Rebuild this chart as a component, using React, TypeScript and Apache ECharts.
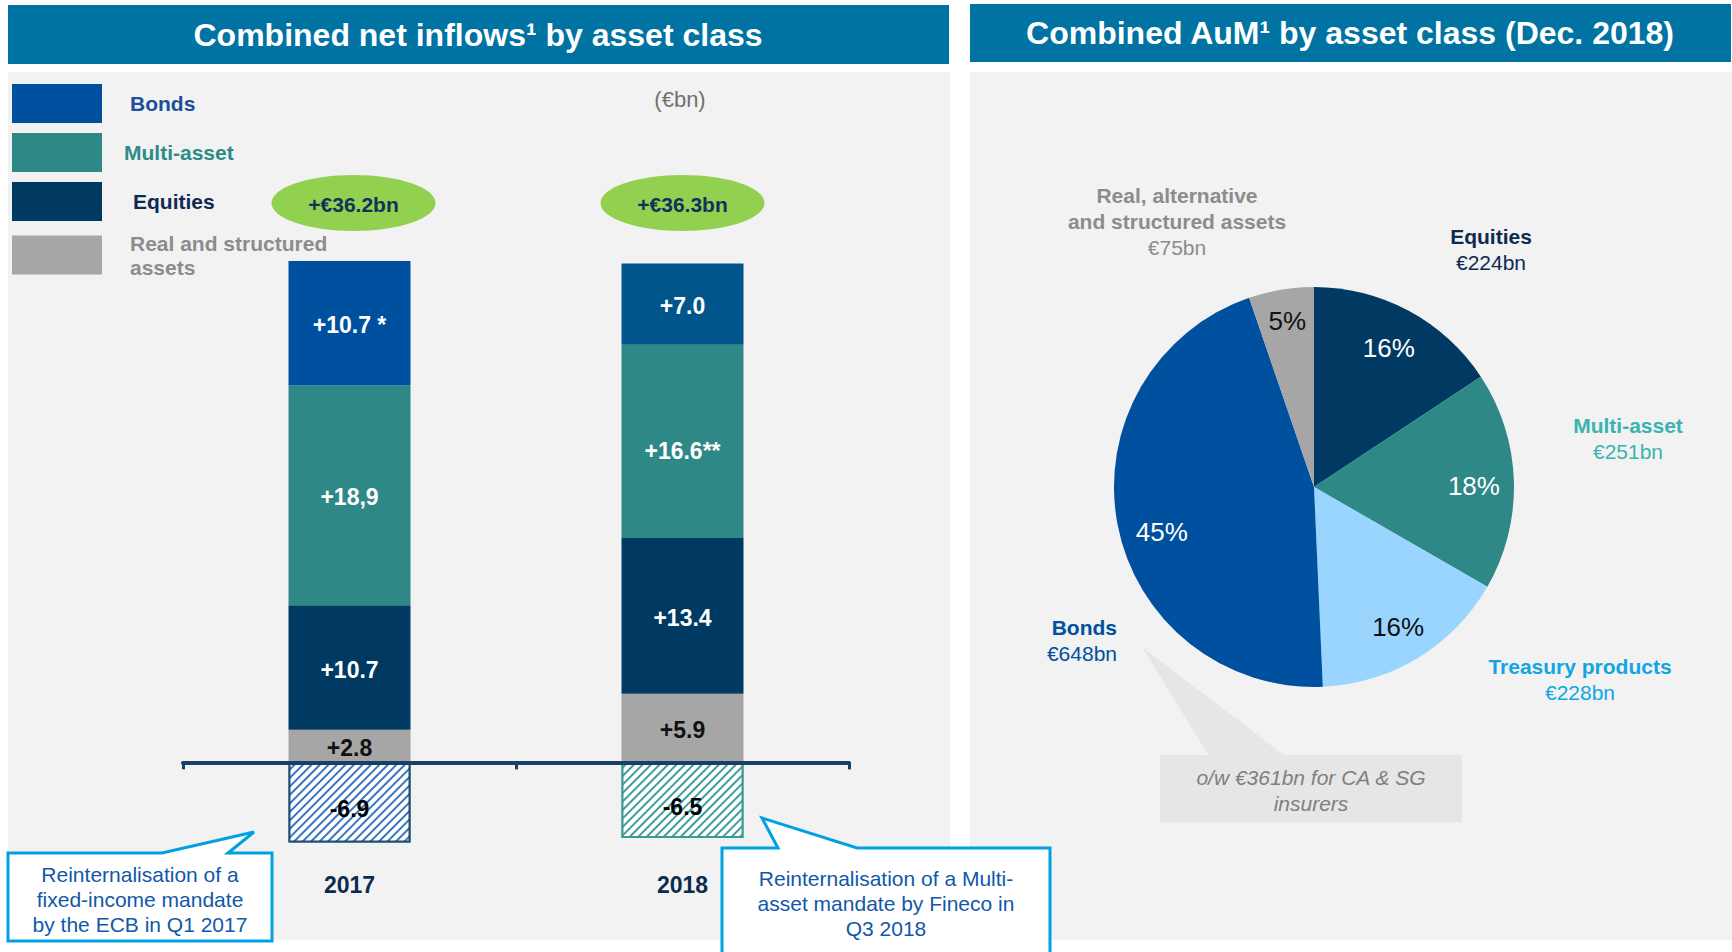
import React, { useEffect, useRef } from "react";
import * as echarts from "echarts";

// ---------- Data ----------
const years = ["2017", "2018"];
const bonds = [10.7, 7.0];
const multiAsset = [18.9, 16.6];
const equities = [10.7, 13.4];
const realStructured = [2.8, 5.9];
const reinternalisation = [-6.9, -6.5];
const bondsLabels = ["+10.7 *", "+7.0"];
const multiAssetLabels = ["+18,9", "+16.6**"];
const equitiesLabels = ["+10.7", "+13.4"];
const realLabels = ["+2.8", "+5.9"];
const reintLabels = ["-6.9", "-6.5"];
const totals = ["+€36.2bn", "+€36.3bn"];

const aumNames = ["Equities", "Multi-asset", "Treasury products", "Bonds", "Real, alternative and structured assets"];
const aumValues = [224, 251, 228, 648, 75];
const aumTitles = [["Equities"], ["Multi-asset"], ["Treasury products"], ["Bonds"], ["Real, alternative", "and structured assets"]];

const callout1 = ["Reinternalisation of a", "fixed-income mandate", "by the ECB in Q1 2017"];
const callout2 = ["Reinternalisation of a Multi-", "asset mandate by Fineco in", "Q3 2018"];
const bondsNote = ["o/w €361bn for CA & SG", "insurers"];

// ---------- Style ----------
const F = '"Liberation Sans", Arial, sans-serif';
const C = {
  title: "#0073A3",
  panel: "#F2F2F2",
  bonds: "#0050A0",
  bonds2018: "#00568A",
  multi: "#2E8886",
  equities: "#003A63",
  real: "#A6A6A6",
  treasury: "#99D5FF",
  navy: "#0D2B4F",
  callout: "#00A0E3",
  calloutText: "#1158A8",
};
const pieColors = [C.equities, C.multi, C.treasury, C.bonds, C.real];
const pieLabelColors = ["#ffffff", "#ffffff", "#111111", "#ffffff", "#111111"];
const pieLabelOffsets = [[-2, 4], [-2, 4], [0, 2], [7, 15], [0, -6]];
const aumTextColors = [C.navy, "#3BB3B0", "#12A5E3", C.bonds, "#8C8C8C"];
// label anchors (layout)
const aumLabelPos = [
  { x: 1491, y: 236, align: "center" },
  { x: 1628, y: 425, align: "center" },
  { x: 1580, y: 666, align: "center" },
  { x: 1117, y: 627, align: "right" },
  { x: 1177, y: 195, align: "center" },
];
const ellipseDx = [4, 0];

function txt(id: string, x: number, y: number, text: string, o: any = {}) {
  return {
    type: "text",
    id,
    x,
    y,
    z: o.z ?? 5,
    style: {
      text,
      fill: o.fill ?? "#000",
      fontFamily: F,
      fontSize: o.size ?? 21,
      fontWeight: o.weight ?? "normal",
      fontStyle: o.italic ? "italic" : "normal",
      align: o.align ?? "center",
      verticalAlign: "middle",
    },
  };
}

export default function App() {
  const ref = useRef<HTMLDivElement>(null);

  useEffect(() => {
    document.body.style.margin = "0";
    const chart = echarts.init(ref.current!, null, { renderer: "svg" });

    const lbl = (arr: string[], color = "#fff", dy = 2) => ({
      show: true,
      position: "inside",
      offset: [0, dy],
      fontFamily: F,
      fontWeight: "bold",
      fontSize: 23,
      color,
      textBorderWidth: 0,
      formatter: (p: any) => arr[p.dataIndex],
    });

    const hatch = (base: string, border: string) => ({
      color: base,
      borderColor: border,
      borderWidth: 2,
      decal: {
        symbol: "rect",
        symbolSize: 1,
        color: "#ffffff",
        dashArrayX: [1, 0],
        dashArrayY: [4, 1.8],
        rotation: -Math.PI / 4,
      },
    });

    const graphics: any[] = [];
    // panels & titles
    graphics.push({ type: "rect", id: "lt", z: 0, shape: { x: 8, y: 5, width: 941, height: 59 }, style: { fill: C.title } });
    graphics.push({ type: "rect", id: "lp", z: 0, shape: { x: 8, y: 72, width: 942, height: 868 }, style: { fill: C.panel } });
    graphics.push({ type: "rect", id: "rt", z: 0, shape: { x: 970, y: 4, width: 761, height: 58 }, style: { fill: C.title } });
    graphics.push({ type: "rect", id: "rp", z: 0, shape: { x: 970, y: 72, width: 762, height: 868 }, style: { fill: C.panel } });
    graphics.push(txt("ltt", 478, 35, "Combined net inflows¹ by asset class", { fill: "#fff", size: 32, weight: "bold" }));
    graphics.push(txt("rtt", 1350, 33, "Combined AuM¹ by asset class (Dec. 2018)", { fill: "#fff", size: 32, weight: "bold" }));
    graphics.push(txt("unit", 680, 99, "(€bn)", { fill: "#707070", size: 22 }));

    // pie outside labels
    aumTitles.forEach((lines, i) => {
      const p = aumLabelPos[i];
      lines.forEach((l, j) => {
        graphics.push(txt(`al${i}_${j}`, p.x, p.y + j * 26, l, { fill: aumTextColors[i], weight: "bold", align: p.align }));
      });
      graphics.push(
        txt(`av${i}`, p.x, p.y + lines.length * 26, `€${aumValues[i]}bn`, { fill: aumTextColors[i], align: p.align })
      );
    });

    // bonds note callout
    graphics.push({ type: "polygon", id: "bn_tri", z: 4, shape: { points: [[1142, 647], [1209, 756], [1285, 756]] }, style: { fill: "#E6E6E6" } });
    graphics.push({ type: "rect", id: "bn_box", z: 4, shape: { x: 1160, y: 755, width: 302, height: 67 }, style: { fill: "#E6E6E6" } });
    bondsNote.forEach((l, j) => graphics.push(txt(`bnt${j}`, 1311, 777 + j * 26, l, { fill: "#7F7F7F", italic: true })));

    // left panel callouts
    graphics.push({
      type: "polygon",
      id: "c1",
      z: 10,
      shape: { points: [[8, 853], [162, 853], [254, 832], [228, 853], [272, 853], [272, 941], [8, 941]] },
      style: { fill: "#fff", stroke: C.callout, lineWidth: 3, lineJoin: "miter" },
    });
    callout1.forEach((l, j) => graphics.push(txt(`c1t${j}`, 140, 874 + j * 25, l, { fill: C.calloutText, z: 11 })));
    graphics.push({
      type: "polygon",
      id: "c2",
      z: 10,
      shape: { points: [[722, 848], [778, 848], [762, 818], [857, 848], [1050, 848], [1050, 960], [722, 960]] },
      style: { fill: "#fff", stroke: C.callout, lineWidth: 3, lineJoin: "miter" },
    });
    callout2.forEach((l, j) => graphics.push(txt(`c2t${j}`, 886, 878 + j * 25, l, { fill: C.calloutText, z: 11 })));

    const option: any = {
      animation: false,
      backgroundColor: "#ffffff",
      textStyle: { fontFamily: F },
      grid: { left: 183, top: 239, width: 666, height: 628, outerBoundsMode: "none", containLabel: false },
      xAxis: {
        type: "category",
        data: years,
        z: 3,
        axisLine: { show: true, onZero: true, lineStyle: { color: "#1A3F66", width: 4 } },
        axisTick: { show: true, length: 7, lineStyle: { color: "#1A3F66", width: 3 } },
        axisLabel: { margin: 6, fontFamily: F, fontSize: 23, fontWeight: "bold", color: C.navy },
        splitLine: { show: false },
      },
      yAxis: {
        type: "value",
        min: -9,
        max: 45,
        axisLine: { show: false },
        axisTick: { show: false },
        axisLabel: { show: false },
        splitLine: { show: false },
      },
      legend: {
        orient: "vertical",
        left: 12,
        top: 84,
        padding: 0,
        itemWidth: 90,
        itemHeight: 39,
        itemGap: 10,
        icon: "rect",
        selectedMode: false,
        formatter: (n: string) => (n === "Real and structured assets" ? "Real and structured\nassets" : n),
        textStyle: { fontFamily: F, fontSize: 21, fontWeight: "bold", lineHeight: 24 },
        data: [
          { name: "Bonds", textStyle: { color: "#1B4F9C", padding: [0, 0, 0, 23] } },
          { name: "Multi-asset", textStyle: { color: "#2E8B88", padding: [0, 0, 0, 17] } },
          { name: "Equities", textStyle: { color: C.navy, padding: [0, 0, 0, 26] } },
          { name: "Real and structured assets", textStyle: { color: "#8C8C8C", padding: [0, 0, 0, 23] } },
        ],
      },
      series: [
        {
          name: "Real and structured assets",
          type: "bar",
          stack: "a",
          barWidth: 122,
          data: realStructured,
          itemStyle: { color: C.real },
          label: lbl(realLabels, "#111111"),
        },
        {
          name: "Equities",
          type: "bar",
          stack: "a",
          barWidth: 122,
          data: equities,
          itemStyle: { color: C.equities },
          label: lbl(equitiesLabels),
        },
        {
          name: "Multi-asset",
          type: "bar",
          stack: "a",
          barWidth: 122,
          data: multiAsset.map((v, i) => (i === 1 ? { value: v, label: { offset: [0, 10] } } : v)),
          itemStyle: { color: C.multi },
          label: lbl(multiAssetLabels),
        },
        {
          name: "Bonds",
          type: "bar",
          stack: "a",
          barWidth: 122,
          data: bonds.map((v, i) => (i === 1 ? { value: v, itemStyle: { color: C.bonds2018 } } : v)),
          itemStyle: { color: C.bonds },
          label: lbl(bondsLabels),
        },
        {
          name: "Reinternalisation",
          type: "bar",
          stack: "a",
          barWidth: 122,
          data: [
            { value: reinternalisation[0], itemStyle: hatch("#3A76C0", "#1F4E79") },
            { value: reinternalisation[1], itemStyle: hatch("#3E9E9C", "#3A9A98") },
          ],
          label: lbl(reintLabels, "#000000", 7),
        },
        {
          name: "AuM",
          type: "pie",
          center: [1314, 487],
          radius: 200,
          startAngle: 90,
          clockwise: true,
          silent: true,
          z: 2,
          itemStyle: { borderWidth: 0 },
          label: { show: false },
          labelLine: { show: false },
          data: aumNames.map((n, i) => ({ name: n, value: aumValues[i], itemStyle: { color: pieColors[i] } })),
        },
        {
          name: "AuM %",
          type: "pie",
          center: [1314, 487],
          radius: [118, 200],
          startAngle: 90,
          clockwise: true,
          silent: true,
          z: 3,
          percentPrecision: 0,
          itemStyle: { color: "rgba(0,0,0,0)", borderWidth: 0 },
          labelLine: { show: false },
          label: { show: true, position: "inside", formatter: "{d}%", fontFamily: F, fontSize: 26, textBorderWidth: 0 },
          data: aumNames.map((n, i) => ({
            name: n,
            value: aumValues[i],
            label: { color: pieLabelColors[i], offset: pieLabelOffsets[i] },
          })),
        },
      ],
      graphic: { elements: graphics },
    };

    chart.setOption(option);

    const xs = years.map((y) => chart.convertToPixel({ xAxisIndex: 0 }, y) as number);
    const ell: any[] = [];
    xs.forEach((x, i) => {
      const cx = x + ellipseDx[i];
      ell.push({ type: "ellipse", id: `ell${i}`, z: 5, shape: { cx, cy: 203, rx: 82, ry: 28 }, style: { fill: "#92D050" } });
      ell.push(txt(`tot${i}`, cx, 204, totals[i], { fill: "#12325A", weight: "bold", z: 6 }));
    });
    chart.setOption({ graphic: { elements: ell } });

    return () => chart.dispose();
  }, []);

  return <div ref={ref} style={{ width: 1732, height: 952 }} />;
}
